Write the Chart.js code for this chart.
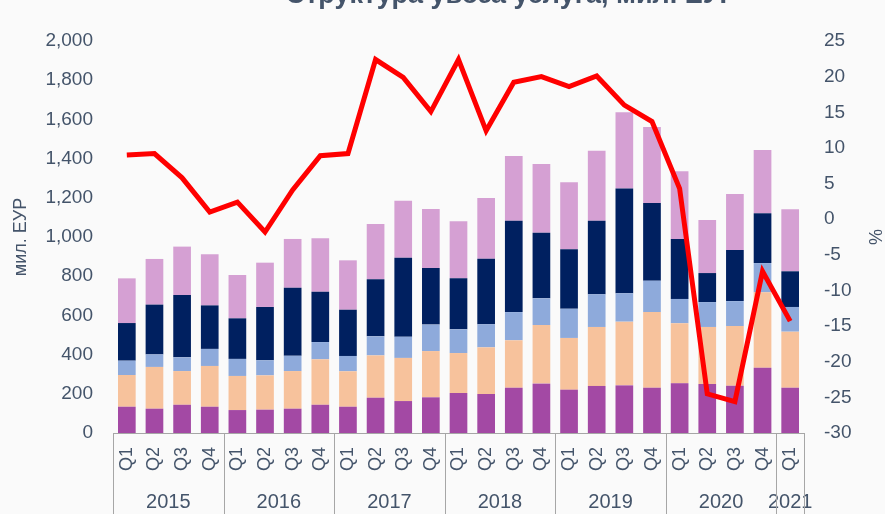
<!DOCTYPE html>
<html><head><meta charset="utf-8">
<script src="https://cdn.jsdelivr.net/npm/chart.js@4/dist/chart.umd.min.js"></script>
<style>
html,body{margin:0;padding:0;background:#fafafa;overflow:hidden;width:885px;height:514px;}
#wrap{position:absolute;left:0;top:-18px;width:885px;height:532px;}
</style></head><body><div id="wrap"><canvas id="c"></canvas></div>
<script>
// ---- data ----
const quarters = ['Q1','Q2','Q3','Q4','Q1','Q2','Q3','Q4','Q1','Q2','Q3','Q4','Q1','Q2','Q3','Q4','Q1','Q2','Q3','Q4','Q1','Q2','Q3','Q4','Q1'];
const years = ['2015','2016','2017','2018','2019','2020','2021'];
const yearSpans = [4,4,4,4,4,4,1];
const seriesNames = ['Серија 1','Серија 2','Серија 3','Серија 4','Серија 5'];
const series1 = [134,124,144,134,117,119,124,144,134,180,163,182,204,199,231,252,221,240,243,231,254,250,241,333,231];
const series2 = [162,213,172,208,174,175,192,232,181,216,220,236,204,238,242,299,264,301,325,386,306,291,305,385,286];
const series3 = [73,64,70,87,87,77,78,88,78,97,108,135,121,118,144,136,149,167,145,160,124,127,127,149,126];
const series4 = [192,254,318,222,207,272,347,257,236,291,403,289,260,334,466,335,303,375,535,396,306,148,261,254,182];
const series5 = [228,233,247,261,221,226,249,272,252,282,291,301,291,310,330,350,342,357,388,388,345,271,285,323,316];
const growth = [9.0,9.2,5.8,1.0,2.4,-1.8,4.1,8.9,9.2,22.4,19.9,15.1,22.4,12.4,19.2,20.0,18.6,20.1,16.0,13.7,4.3,-24.5,-25.6,-7.3,-14.3];
const growthName = 'мг. стопа, %';
const titleText = 'Структура увоза услуга, мил. ЕУР';
const leftAxisTitle = 'мил. ЕУР';
const rightAxisTitle = '%';

const colors = ['#a349a4','#f7c29c','#8eaadb','#002060','#d5a0d3'];
const txt = '#44546a';
Chart.defaults.font.family = "'Liberation Sans', Arial, sans-serif";

const yearAxis = {
  id: 'yearAxis',
  afterLayout(chart){
    const t = chart.titleBlock;
    if (t) { t.left += 138; }
  },
  afterDraw(chart){
    const x = chart.scales.x, ctx = chart.ctx, area = chart.chartArea;
    const half = (x.getPixelForValue(1) - x.getPixelForValue(0)) / 2;
    ctx.save();
    ctx.strokeStyle = '#a6a6a6'; ctx.lineWidth = 1;
    ctx.fillStyle = txt; ctx.font = "20px 'Liberation Sans', Arial, sans-serif";
    ctx.textAlign = 'center'; ctx.textBaseline = 'middle';
    let idx = 0;
    const bounds = [];
    yearSpans.forEach((n, i) => {
      const l = x.getPixelForValue(idx) - half;
      const r = x.getPixelForValue(idx + n - 1) + half;
      if (i === 0) bounds.push(l);
      bounds.push(r);
      ctx.fillText(years[i], (l + r) / 2, area.bottom + 69);
      idx += n;
    });
    bounds.forEach(b => {
      const px = Math.round(b) + 0.5;
      ctx.beginPath(); ctx.moveTo(px, area.bottom); ctx.lineTo(px, chart.height); ctx.stroke();
    });
    ctx.restore();
  }
};

const barSets = [series1, series2, series3, series4, series5].map((d, i) => ({
  type: 'bar', label: seriesNames[i], data: d, backgroundColor: colors[i],
  borderWidth: 0, stack: 's', yAxisID: 'y', order: 1,
  categoryPercentage: 1, barPercentage: 0.64
}));

new Chart(document.getElementById('c'), {
  data: {
    labels: quarters,
    datasets: [...barSets, {
      type: 'line', label: growthName, data: growth, yAxisID: 'y2', order: 0,
      borderColor: '#ff0000', borderWidth: 5, pointRadius: 0, tension: 0, fill: false
    }]
  },
  options: {
    responsive: true, maintainAspectRatio: false, animation: false,
    layout: { padding: 0 },
    plugins: {
      legend: { display: false }, tooltip: { enabled: false },
      title: { display: true, text: titleText, color: txt,
        font: { size: 27, weight: 'bold' }, padding: { top: -2.5, bottom: 29.1 } }
    },
    scales: {
      x: {
        stacked: true,
        grid: { display: false, drawTicks: false },
        border: { display: true, color: '#a6a6a6', width: 1 },
        ticks: { color: txt, font: { size: 18 }, minRotation: 90, maxRotation: 90, padding: 14, autoSkip: false },
        afterFit(s){ s.height = 81; }
      },
      y: {
        position: 'left', stacked: true, min: 0, max: 2000,
        grid: { display: false, drawTicks: false }, border: { display: false },
        ticks: { stepSize: 200, color: txt, font: { size: 19 }, padding: 20,
          callback: v => v.toLocaleString('en-US') },
        title: { display: true, text: leftAxisTitle, color: txt, font: { size: 18 }, padding: { top: 10, bottom: 0 } },
        afterFit(s){ s.width = 113; }
      },
      y2: {
        position: 'right', min: -30, max: 25,
        grid: { display: false, drawTicks: false }, border: { display: false },
        ticks: { stepSize: 5, color: txt, font: { size: 19 }, padding: 20 },
        title: { display: true, text: rightAxisTitle, color: txt, font: { size: 18 }, padding: { top: 0, bottom: 0 } },
        afterFit(s){ s.width = 81; }
      }
    }
  },
  plugins: [yearAxis]
});
</script></body></html>
